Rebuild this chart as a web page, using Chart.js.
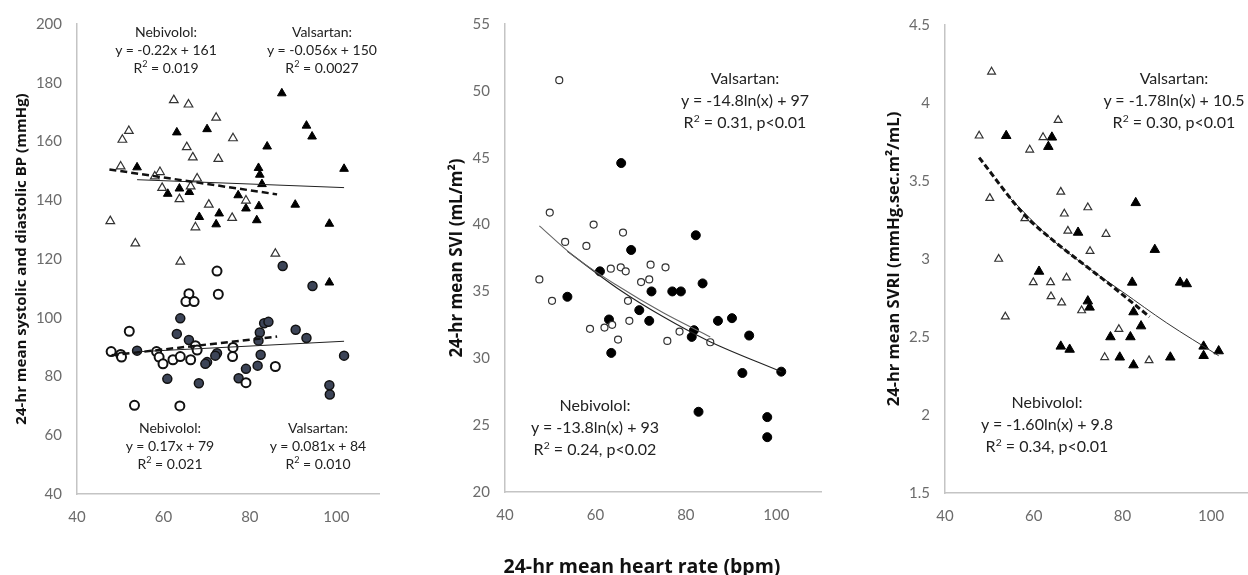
<!DOCTYPE html>
<html>
<head>
<meta charset="utf-8">
<script src="https://cdn.jsdelivr.net/npm/chart.js@4"></script>
<style>
  html, body { margin: 0; padding: 0; background: #fff; overflow: hidden; }
  body { width: 1248px; height: 575px; position: relative; }
  canvas { position: absolute; top: 0; }
  .note { position: absolute; transform: translateX(-50%); text-align: center; white-space: nowrap; color: #222; font-family: Lato, "Open Sans", sans-serif; }
  .small { font-size: 14px; line-height: 18px; }
  .big { font-size: 16px; line-height: 22px; }
  .note sup { font-size: 0.65em; line-height: 0; }
  #xtitle { position: absolute; left: 642px; top: 552px; line-height: 26px; transform: translateX(-50%); font: bold 19.5px "Open Sans", sans-serif; color: #111; white-space: nowrap; }
</style>
</head>
<body>
<canvas id="bpChart" width="386" height="575" style="left:0px"></canvas>
<canvas id="sviChart" width="427" height="575" style="left:400px"></canvas>
<canvas id="svriChart" width="422" height="575" style="left:840px"></canvas>

<div class="note small" style="left:166px; top:23px">Nebivolol:<br>y = -0.22x + 161<br>R<sup>2</sup> = 0.019</div>
<div class="note small" style="left:322px; top:23px">Valsartan:<br>y = -0.056x + 150<br>R<sup>2</sup> = 0.0027</div>
<div class="note small" style="left:170px; top:419px">Nebivolol:<br>y = 0.17x + 79<br>R<sup>2</sup> = 0.021</div>
<div class="note small" style="left:318px; top:419px">Valsartan:<br>y = 0.081x + 84<br>R<sup>2</sup> = 0.010</div>

<div class="note big" style="left:745px; top:67px">Valsartan:<br>y = -14.8ln(x) + 97<br>R<sup>2</sup> = 0.31, p&lt;0.01</div>
<div class="note big" style="left:595px; top:394px">Nebivolol:<br>y = -13.8ln(x) + 93<br>R<sup>2</sup> = 0.24, p&lt;0.02</div>

<div class="note big" style="left:1174px; top:67px">Valsartan:<br>y = -1.78ln(x) + 10.5<br>R<sup>2</sup> = 0.30, p&lt;0.01</div>
<div class="note big" style="left:1047px; top:391px">Nebivolol:<br>y = -1.60ln(x) + 9.8<br>R<sup>2</sup> = 0.34, p&lt;0.01</div>

<div id="xtitle">24-hr mean heart rate (bpm)</div>

<script>
// Panel 1: systolic (triangles) and diastolic (circles) BP vs heart rate
const nebSysX = [62.4, 65.8, 72.2, 52.0, 50.5, 76.1, 65.4, 66.8, 72.7, 50.1, 59.2, 58.0, 67.8, 66.3, 59.7, 63.7, 70.5, 79.1, 75.9, 67.4, 47.7, 53.5, 63.9, 85.9];
const nebSysY = [174.1, 172.6, 168.1, 163.6, 160.6, 161.1, 158.1, 154.6, 154.1, 151.5, 149.6, 148.1, 147.4, 144.7, 144.2, 140.4, 138.5, 139.9, 134.0, 130.8, 132.9, 125.3, 119.1, 121.8];
const valSysX = [87.4, 63.1, 70.1, 93.1, 94.4, 84.0, 53.9, 101.8, 82.0, 82.3, 82.8, 63.7, 61.0, 66.0, 77.3, 79.1, 82.1, 90.5, 68.3, 72.9, 72.2, 81.6, 98.4, 98.4];
const valSysY = [176.4, 163.1, 164.2, 165.4, 161.7, 158.3, 151.2, 150.7, 151.0, 148.7, 145.5, 144.0, 142.2, 142.8, 141.7, 137.2, 138.0, 138.5, 134.3, 135.5, 131.8, 133.2, 132.0, 112.0];
const nebDiaX = [72.4, 65.9, 65.2, 67.1, 72.7, 52.1, 47.9, 50.1, 50.3, 58.4, 59.0, 59.9, 62.2, 63.9, 66.3, 67.4, 67.8, 76.1, 76.0, 85.9, 79.1, 53.3, 63.8];
const nebDiaY = [115.9, 108.2, 105.5, 105.5, 108.0, 95.4, 88.5, 87.5, 86.6, 88.5, 86.6, 84.3, 85.7, 86.8, 85.7, 90.5, 89.0, 89.9, 86.8, 83.4, 77.9, 70.2, 70.0];
const valDiaX = [87.6, 94.5, 63.9, 63.1, 65.9, 83.3, 84.3, 82.3, 82.0, 90.6, 93.1, 53.9, 72.4, 72.0, 70.1, 69.7, 82.5, 101.8, 81.8, 79.1, 77.4, 60.9, 68.2, 98.4, 98.5];
const valDiaY = [117.6, 110.8, 99.8, 94.5, 92.4, 98.1, 98.6, 95.0, 92.2, 95.9, 93.1, 88.8, 87.9, 87.1, 84.9, 84.3, 87.4, 87.1, 83.7, 82.6, 79.4, 79.2, 77.7, 77.0, 73.9];
const nebSysTrendX = [47.5, 86.3];
const nebSysTrendY = [150.5, 142.0];
const valSysTrendX = [53.9, 101.8];
const valSysTrendY = [147.0, 144.3];
const nebDiaTrendX = [48.0, 86.3];
const nebDiaTrendY = [87.2, 93.6];
const valDiaTrendX = [53.9, 101.8];
const valDiaTrendY = [88.4, 92.0];

// Panel 2: SVI vs heart rate
const nebSviX = [52.0, 49.9, 59.6, 66.1, 53.3, 58.0, 47.6, 50.4, 63.4, 65.6, 66.7, 72.2, 75.5, 70.1, 71.9, 67.2, 67.5, 58.8, 62.0, 63.7, 65.0, 75.9, 78.6, 85.4];
const nebSviY = [50.8, 40.9, 40.0, 39.4, 38.7, 38.4, 35.9, 34.3, 36.7, 36.8, 36.5, 37.0, 36.8, 35.7, 35.9, 34.3, 32.8, 32.2, 32.3, 32.5, 31.4, 31.3, 32.0, 31.2];
const valSviX = [65.7, 82.2, 67.9, 61.0, 53.8, 72.4, 77.0, 78.9, 83.7, 69.7, 63.0, 71.9, 87.1, 90.2, 81.8, 81.3, 94.0, 63.5, 92.5, 101.1, 82.8, 98.0, 98.0];
const valSviY = [44.6, 39.2, 38.1, 36.5, 34.6, 35.0, 35.0, 35.0, 35.6, 33.6, 32.9, 32.8, 32.8, 33.0, 32.1, 31.6, 31.7, 30.4, 28.9, 29.0, 26.0, 25.6, 24.1];
const nebSviTrendX = [47.6, 55, 65, 75, 85.4];
const nebSviTrendY = [39.9, 37.7, 35.4, 33.4, 31.6];
const valSviTrendX = [53.8, 65, 75, 85, 101.1];
const valSviTrendY = [38.0, 35.2, 33.1, 31.3, 29.0];

// Panel 3: SVRI vs heart rate
const nebSvriX = [50.5, 47.7, 65.5, 62.1, 59.1, 50.1, 66.1, 72.2, 66.9, 58.0, 67.7, 76.3, 72.7, 52.1, 59.9, 63.8, 67.4, 63.9, 66.3, 70.8, 53.6, 79.2, 76.0, 86.0];
const nebSvriY = [4.20, 3.79, 3.89, 3.78, 3.70, 3.39, 3.43, 3.33, 3.29, 3.26, 3.18, 3.16, 3.05, 3.00, 2.85, 2.85, 2.88, 2.76, 2.72, 2.67, 2.63, 2.55, 2.37, 2.35];
const valSvriX = [53.8, 64.1, 63.3, 83.0, 70.0, 87.3, 61.2, 82.2, 93.0, 94.5, 72.2, 72.6, 82.5, 84.2, 77.3, 81.8, 66.1, 68.1, 79.4, 82.5, 90.8, 98.3, 98.3, 101.7];
const valSvriY = [3.79, 3.78, 3.72, 3.36, 3.17, 3.06, 2.92, 2.85, 2.85, 2.84, 2.73, 2.69, 2.66, 2.57, 2.50, 2.50, 2.44, 2.42, 2.37, 2.32, 2.37, 2.44, 2.38, 2.41];
const nebSvriTrendX = [47.7, 58, 63.9, 72, 77.9, 86.1];
const nebSvriTrendY = [3.65, 3.28, 3.13, 2.95, 2.82, 2.63];
const valSvriTrendX = [54, 63.9, 72, 80, 90, 101.7];
const valSvriTrendY = [3.41, 3.13, 2.95, 2.79, 2.59, 2.38];

const pts = (xs, ys) => xs.map((x, i) => ({ x: x, y: ys[i] }));

function markers(xs, ys, style, radius, fill, border, bw) {
    return {
        data: pts(xs, ys), order: 2, showLine: false,
        pointStyle: style, pointRadius: radius, pointHoverRadius: radius,
        pointBackgroundColor: fill, pointBorderColor: border, pointBorderWidth: bw,
        backgroundColor: fill, borderColor: border
    };
}

function trend(xs, ys, color, width, dash) {
    return {
        data: pts(xs, ys), order: 1, showLine: true, pointRadius: 0,
        borderColor: color, borderWidth: width, borderDash: dash,
        cubicInterpolationMode: 'monotone', fill: false
    };
}

const tickFont = { family: 'Lato', size: 15 };
const tickColor = '#6b6b6b';
const axisBorder = { color: '#c4c4c4', width: 1.5 };

function makeChart(id, datasets, cfg) {
    return new Chart(document.getElementById(id), {
        type: 'scatter',
        data: { datasets: datasets },
        options: {
            responsive: false,
            animation: false,
            devicePixelRatio: 1,
            layout: { padding: { top: cfg.top, left: 0, right: 0, bottom: 0 } },
            plugins: { legend: { display: false }, tooltip: { enabled: false } },
            scales: {
                x: {
                    type: 'linear', min: 40, max: 110,
                    ticks: { stepSize: 20, includeBounds: false, padding: 14, font: tickFont, color: tickColor },
                    grid: { display: false, drawTicks: false },
                    border: axisBorder,
                    afterFit: s => { s.height = 575 - cfg.bottom; }
                },
                y: {
                    type: 'linear', min: cfg.ymin, max: cfg.ymax,
                    ticks: { stepSize: cfg.step, padding: 15, font: tickFont, color: tickColor, callback: v => String(v) },
                    grid: { display: false, drawTicks: false },
                    border: axisBorder,
                    title: { display: true, text: cfg.title, color: '#111',
                             font: { family: 'Open Sans', size: cfg.titleSize, weight: 'bold' },
                             padding: { top: cfg.titlePad, bottom: 0 } },
                    afterFit: s => { s.width = cfg.yWidth; }
                }
            }
        }
    });
}

const bpChart = makeChart('bpChart', [
    trend(nebSysTrendX, nebSysTrendY, '#111', 2.5, [7, 4]),
    trend(valSysTrendX, valSysTrendY, '#222', 1, []),
    trend(nebDiaTrendX, nebDiaTrendY, '#111', 2.5, [7, 4]),
    trend(valDiaTrendX, valDiaTrendY, '#222', 1, []),
    markers(nebSysX, nebSysY, 'triangle', 5, '#fff', '#333', 1.2),
    markers(valSysX, valSysY, 'triangle', 5, '#000', '#000', 1),
    markers(nebDiaX, nebDiaY, 'circle', 4.5, '#fff', '#111', 2),
    markers(valDiaX, valDiaY, 'circle', 4.5, '#3c4457', '#111', 1.5)
], { top: 22, bottom: 494, ymin: 40, ymax: 200, step: 20, yWidth: 77, titlePad: 13, titleSize: 15,
     title: '24-hr mean systolic and diastolic BP (mmHg)' });

const sviChart = makeChart('sviChart', [
    trend(nebSviTrendX, nebSviTrendY, '#666', 1.1, []),
    trend(valSviTrendX, valSviTrendY, '#222', 1.1, []),
    markers(nebSviX, nebSviY, 'circle', 3.5, '#fff', '#333', 1.2),
    markers(valSviX, valSviY, 'circle', 4.5, '#000', '#000', 1)
], { top: 23, bottom: 492, ymin: 20, ymax: 55, step: 5, yWidth: 105, titlePad: 47, titleSize: 17,
     title: '24-hr mean SVI (mL/m²)' });

const svriChart = makeChart('svriChart', [
    trend(nebSvriTrendX, nebSvriTrendY, '#111', 3, [6, 3]),
    trend(valSvriTrendX, valSvriTrendY, '#333', 1, []),
    markers(nebSvriX, nebSvriY, 'triangle', 4.5, '#fff', '#333', 1.2),
    markers(valSvriX, valSvriY, 'triangle', 5.5, '#000', '#000', 1)
], { top: 25, bottom: 493, ymin: 1.5, ymax: 4.5, step: 0.5, yWidth: 105, titlePad: 44, titleSize: 16.5,
     title: '24-hr mean SVRI (mmHg.sec.m²/mL)' });
</script>
</body>
</html>
